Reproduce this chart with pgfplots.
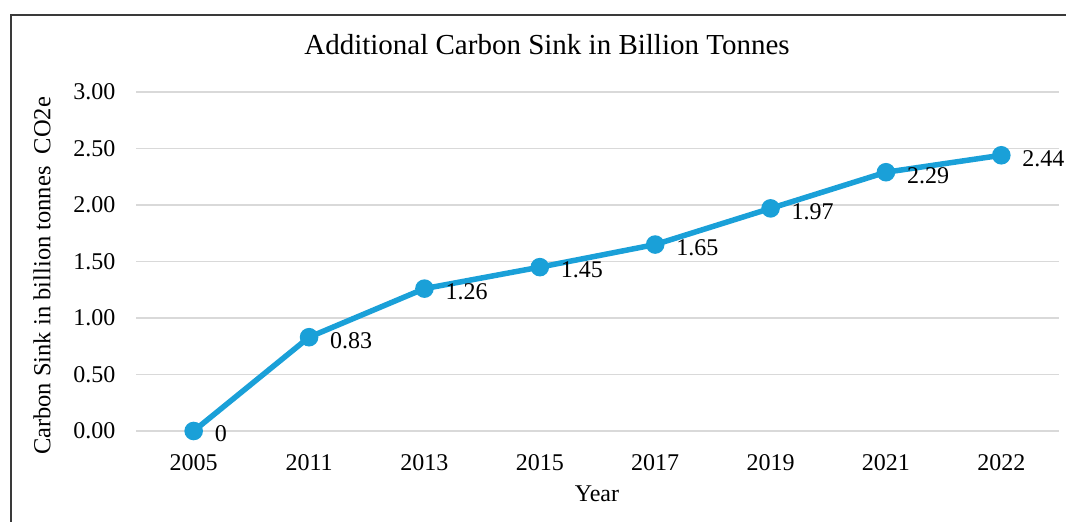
\documentclass[border=0pt]{standalone}
\usepackage{fontspec}
\setmainfont{Liberation Serif}
\usepackage{pgfplots}
\pgfplotsset{compat=1.18}
\definecolor{sinkblue}{HTML}{1AA0D8}
\definecolor{gridgray}{HTML}{D9D9D9}
\definecolor{framegray}{HTML}{3A3A3A}

\pgfplotstableread{
x year value label
0 2005 0.00 0
1 2011 0.83 0.83
2 2013 1.26 1.26
3 2015 1.45 1.45
4 2017 1.65 1.65
5 2019 1.97 1.97
6 2021 2.29 2.29
7 2022 2.44 2.44
}\sinkdata

\begin{document}
\begin{tikzpicture}
\useasboundingbox (0,0) rectangle (1066pt,522pt);
% chart frame (top and left edges)
\draw[framegray, line width=1.5pt] (11pt,0pt) -- (11pt,507pt) -- (1066pt,507pt);
\begin{axis}[
  at={(136pt,91pt)}, anchor=south west,
  scale only axis,
  width=923pt, height=339pt,
  xmin=-0.5, xmax=7.5,
  ymin=0, ymax=3,
  axis line style={draw=none},
  tick style={draw=none},
  xtick={0,...,7},
  xticklabels={2005,2011,2013,2015,2017,2019,2021,2022},
  ytick={0,0.5,...,3},
  yticklabel={\pgfmathprintnumber[fixed,fixed zerofill,precision=2]{\tick}},
  /pgf/number format/assume math mode=true,
  ymajorgrids,
  grid style={gridgray, line width=1.5pt},
  ticklabel style={font=\fontsize{24}{28}\selectfont},
  xticklabel style={yshift=-20pt},
  yticklabel style={xshift=-17pt},
  clip=false,
]
\addplot[sinkblue, line width=5.5pt, mark=*, mark size=6.5pt,
  mark options={fill=sinkblue, draw=none},
  nodes near coords, point meta=explicit symbolic,
  every node near coord/.style={anchor=west, black, xshift=15pt, yshift=-3pt,
    font=\fontsize{24}{28}\selectfont}]
  table[x=x, y=value, meta=label] {\sinkdata};
\end{axis}
\node[font=\fontsize{29}{34}\selectfont] at (547pt,477pt) {Additional Carbon Sink in Billion Tonnes};
\node[font=\fontsize{24.5}{29}\selectfont, rotate=90] at (42pt,246pt) {Carbon Sink in billion tonnes\ \ CO2e};
\node[font=\fontsize{24}{28}\selectfont] at (597pt,28pt) {Year};
\end{tikzpicture}
\end{document}
